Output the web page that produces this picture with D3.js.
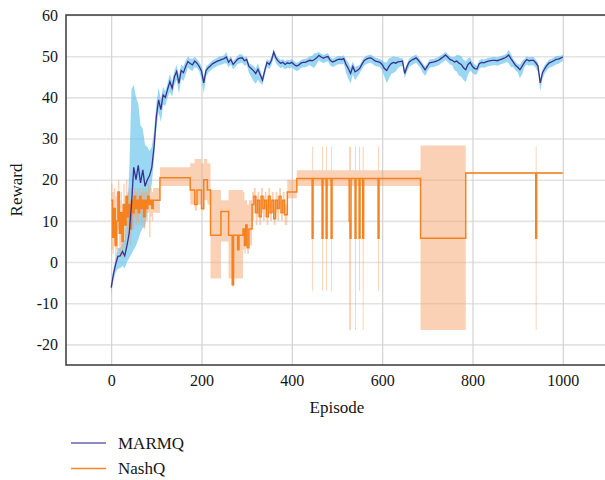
<!DOCTYPE html>
<html>
<head>
<meta charset="utf-8">
<script src="https://cdn.jsdelivr.net/npm/d3@7"></script>
<style>
body { margin: 0; background: #fff; }
svg text { font-family: "Liberation Serif", "Times New Roman", "DejaVu Serif", serif !important; fill: #151515; }
</style>
</head>
<body>
<script>
const w = 605; // width
const h = 480; // height
const m = {left: 66, top: 15, bottom: 365};

// ticks
const xTicks = [0, 200, 400, 600, 800, 1000];
const yTicks = [-20, -10, 0, 10, 20, 30, 40, 50, 60];

// MARMQ, one value every 5 episodes (0..1000)
const marmqStep = 5;
const marmqMean = [
  -6.2, -3, -0.5, 1.4, 1.5, 2.6, 1.5, 4, 7, 14, 23, 20, 23.5, 19.2, 22.4, 18.4, 20, 21, 23, 28,
  35.3, 39.4, 37, 40.6, 40, 42, 43.8, 42.2, 45, 46.3, 43.4, 46.5, 46, 47.5, 48.7, 48.2, 47.9, 48.8, 48.3, 47.5,
  46.4, 43.5, 46.5, 47.2, 47.7, 48.2, 48.5, 48.8, 49, 49.2, 49.4, 49.8, 48.5, 49.2, 48, 48.6, 49.3, 49.5, 49.6, 48.9,
  49.2, 47.5, 47, 46.5, 45.8, 46.8, 45.5, 44.2, 46.5, 48.5, 48, 49, 51, 49.5, 48.8, 48.3, 48.5, 48, 48.4, 48.2,
  48.5, 48, 47.6, 47.8, 48.3, 48.5, 48.5, 48.8, 49, 48.9, 49.2, 49.6, 50.2, 49.8, 49.5, 49.8, 49.9, 49, 48.6, 48.8,
  49.1, 49.3, 49.2, 49.4, 48, 47, 45.8, 47.5, 46.2, 46.5, 47, 48, 48.9, 49.3, 49.5, 49.6, 49.2, 48.8, 48.7, 48.5,
  48, 47, 46.5, 47.5, 48.2, 48.5, 48.3, 48.6, 48.7, 48.8, 45.8, 47.5, 48.6, 49, 49.3, 49.6, 49, 48.3, 47.5, 46.7,
  47.5, 48.4, 48.5, 48.6, 48.8, 49, 49.4, 49.8, 50.3, 49.8, 49.2, 49, 48.6, 48.8, 48.3, 48, 47.2, 46.7, 48, 48.5,
  47.5, 47, 46.9, 48.2, 48.5, 48.4, 48.6, 48.8, 48.9, 49, 49, 48.9, 49.1, 49.3, 49.5, 49.8, 50.3, 49.4, 48.6, 47.8,
  47.3, 46.7, 47.6, 48.5, 49.2, 48.9, 49, 49, 48.4, 47.6, 43.5, 46, 47, 47.8, 48.4, 48.6, 48.9, 49.2, 49.3, 49.5,
  49.8
];
const marmqUp = [
  1, 1.5, 1.5, 2, 2, 2, 4, 8, 15, 28, 20, 20, 15, 14, 10, 10, 8, 6, 5, 4,
  3, 3, 2.5, 2, 1.5, 1.5, 2, 1.5, 1.5, 1.5, 2, 1.5, 1.5, 1.5, 1.2, 1.2, 1.5, 1, 1, 1,
  1.2, 1.5, 1, 0.8, 0.8, 0.8, 0.8, 0.8, 1, 0.8, 0.8, 1.2, 0.8, 0.8, 0.8, 0.8, 0.8, 1, 0.8, 0.8,
  0.8, 0.8, 1, 1.2, 1.2, 1.5, 1.2, 0.8, 0.8, 0.8, 0.8, 1, 0.8, 0.8, 0.8, 0.8, 0.8, 0.8, 0.8, 0.8,
  0.8, 0.8, 0.8, 0.8, 0.8, 0.8, 0.8, 0.8, 1, 1.2, 1.5, 1.2, 0.8, 0.8, 0.8, 0.8, 0.8, 0.8, 0.8, 0.8,
  0.8, 0.8, 0.8, 0.8, 1.2, 1.5, 1.5, 1.2, 1.2, 1.2, 0.8, 0.8, 0.8, 0.8, 0.8, 0.8, 0.8, 0.8, 0.8, 0.8,
  1, 1.5, 2, 2, 1.5, 1.5, 1.5, 1.2, 0.8, 0.8, 0.8, 0.8, 0.8, 0.8, 0.8, 0.8, 0.8, 0.8, 0.8, 0.8,
  0.8, 0.8, 0.8, 0.8, 0.8, 0.8, 0.8, 0.8, 0.8, 0.8, 0.8, 0.8, 1.2, 1.5, 2, 2, 2, 2, 1.5, 1.2,
  1, 1, 0.8, 0.8, 0.8, 0.8, 0.8, 0.8, 0.8, 0.8, 0.8, 0.8, 0.8, 0.8, 0.8, 0.8, 1.2, 1.2, 0.8, 0.8,
  0.8, 1.2, 1.2, 0.8, 0.8, 0.8, 0.8, 0.8, 0.8, 0.8, 0.8, 0.8, 0.8, 0.8, 0.8, 0.8, 0.8, 0.8, 0.8, 0.6,
  0.6
];
const marmqDown = [
  1.5, 1.5, 2, 3, 3, 3.5, 3, 4, 6, 12, 20, 16, 18, 12, 14, 10, 8, 5, 4, 3,
  3, 3, 3, 2.5, 2, 2, 2.5, 2, 2, 2, 2.5, 2, 2, 2, 1.5, 1.5, 1.5, 1.5, 1.2, 1.2,
  2, 2.5, 1.5, 1.2, 1.2, 1.2, 1.2, 1.2, 1.2, 1.2, 1.2, 1.5, 1.2, 1.2, 1.2, 1.2, 1.2, 1.2, 1.2, 1.2,
  1.2, 1.5, 2, 2.5, 2.5, 2.5, 2, 1.2, 1.2, 1.2, 1.2, 1.2, 1.2, 1.2, 1.2, 1.2, 1.2, 1.2, 1.2, 1.2,
  1.2, 1.2, 1.2, 1.2, 1.2, 1.2, 1.2, 1.2, 1.2, 1.5, 2, 1.5, 1.2, 1.2, 1.2, 1.2, 1.2, 1.2, 1.2, 1.2,
  1.2, 1.2, 1.2, 1.2, 2, 2.5, 2.5, 2, 2, 1.5, 1.2, 1.2, 1.2, 1.2, 1.2, 1.2, 1.2, 1.2, 1.2, 1.2,
  1.5, 2, 3, 3, 2.5, 2.5, 2, 1.5, 1.2, 1.2, 1.2, 1.2, 1.2, 1.2, 1.2, 1.2, 1.2, 1.2, 1.5, 1.5,
  1.2, 1.2, 1.2, 1.2, 1.2, 1.2, 1.2, 1.2, 1.2, 1.2, 1.2, 1.2, 2, 2.5, 3, 3, 3, 3, 2.5, 2,
  1.5, 1.5, 1.2, 1.2, 1.2, 1.2, 1.2, 1.2, 1.2, 1.2, 1.2, 1.2, 1.2, 1.2, 1.2, 1.2, 2, 2, 1.2, 1.2,
  1.2, 2, 2, 1.2, 1.2, 1.2, 1.2, 1.2, 1.2, 1.5, 2, 1.5, 1.2, 1.2, 1.2, 1.2, 1.2, 1.2, 1.2, 1,
  1
];

// NashQ, stepped: value holds from each episode until the next one
const nashEp = [0, 3, 6, 9, 12, 15, 18, 21, 24, 27, 30, 33, 36, 39, 42, 45, 48, 51, 54, 57, 60, 63, 66, 69, 72, 75, 78, 81, 84, 87, 90, 93,
  108, 175, 185, 190, 200, 205, 213, 220, 243, 260, 268, 271, 280, 283, 292, 295, 298, 301, 305,
  312, 316, 320, 324, 328, 332, 336, 340, 344, 348, 352, 356, 360, 364, 368, 372, 376, 380, 384, 390, 411,
  445, 447, 467, 469, 476, 478, 487, 489, 527, 529, 531, 540, 542, 549, 551, 557, 559, 591, 593, 685, 785, 940, 942, 1000];
const nashMean = [15, 6, 13, 4, 10, 17, 7, 12, 5, 14, 9, 16, 11, 14, 8, 15, 12, 16, 13, 15, 12, 16, 13, 15, 11, 15, 13, 16, 14, 15, 13, 15,
  20.5, 17.5, 14, 17.5, 13, 20, 17.5, 6.5, 12.3, 6.5, -5.5, 6.5, 3, 6.5, 8, 4, 9, 3.5, 8,
  14, 16, 12, 15, 11, 16, 13, 15, 11, 16, 12, 15, 10.5, 15, 13, 16, 12, 15, 11.5, 17, 20.3,
  5.8, 20.3, 5.8, 20.3, 5.8, 20.3, 5.8, 20.3, 10, 5.8, 20.3, 5.8, 20.3, 5.8, 20.3, 5.8, 20.3, 5.8, 20.3, 5.8, 21.6, 5.8, 21.6, 21.6];
const nashLo = [3, 2, 4, 0, 3, 8, 2, 4, 1, 6, 3, 9, 6, 8, 4, 10, 8, 11, 9, 10, 9, 12, 9, 11, 8, 12, 10, 12, 6, 11, 10, 12,
  18.5, 14, 12.5, 14, 12.5, 15, 14, -4, 5, -4, -6, -4, -4, -4, 3, 2, 4, 2, 4,
  10, 12, 9, 11, 9, 12, 10, 11, 9, 13, 10, 12, 9, 12, 10, 13, 10, 12, 9, 15.5, 18.5,
  -7, 18.5, -7, 18.5, -7, 18.5, -7, 18.5, -16.5, -16.5, 18.5, -16.5, 18.5, -7, 18.5, -16.5, 18.5, -7, 18.5, -16.5, 21.4, -16.5, 21.4, 21.4];
const nashHi = [19, 17, 18, 16, 17, 20, 15, 17, 14, 19, 16, 20, 17, 18, 15, 18, 17, 18, 17, 18, 16, 18, 17, 18, 17, 18, 17, 19, 18, 18, 17, 18,
  23, 24, 25, 25, 24, 25, 24, 17.5, 15, 17.5, 17.5, 17.5, 17.5, 17.5, 17, 15, 15, 14, 15,
  17, 18, 16, 17, 15, 18, 16, 17, 14, 18, 15, 17, 13, 17, 16, 18, 15, 17, 14, 20, 22.3,
  28, 22.3, 28, 22.3, 28, 22.3, 28, 22.3, 28, 28, 22.3, 28, 22.3, 28, 22.3, 28, 22.3, 28, 22.3, 28.3, 21.8, 28, 21.8, 21.8];

const series = ["MARMQ", "NashQ"];
const lineColor = {MARMQ: "#3b3190", NashQ: "#f5821f"};
const legendColor = {MARMQ: "#6a63b3", NashQ: "#f7862a"};
const serif = '"Liberation Serif", "Times New Roman", "DejaVu Serif", serif';

const marmq = marmqMean.map((v, i) => ({ep: i * marmqStep, v: v, lo: v - marmqDown[i], hi: v + marmqUp[i]}));
const nash = nashEp.map((e, i) => ({ep: e, v: nashMean[i], lo: nashLo[i], hi: nashHi[i]}));

let svg = d3.select("body")
    .append("svg")
    .attr("width", w)
    .attr("height", h)
    .attr("font-family", serif);

let x = d3.scaleLinear().domain([-100, 1100]).range([m.left, 608]);
let y = d3.scaleLinear().domain([-25, 60]).range([m.bottom, m.top]);

// grid
svg.append("g")
    .attr("transform", `translate(${m.left},0)`)
    .call(d3.axisLeft(y).tickValues(yTicks).tickSize(-(w - m.left)).tickFormat(""))
    .call(g => g.select(".domain").remove())
    .call(g => g.selectAll("line").attr("stroke", "#e3e3e3").attr("stroke-width", 1.6));

svg.append("g")
    .attr("transform", `translate(0,${m.bottom})`)
    .call(d3.axisBottom(x).tickValues(xTicks).tickSize(-(m.bottom - m.top)).tickFormat(""))
    .call(g => g.select(".domain").remove())
    .call(g => g.selectAll("line").attr("stroke", "#d2d2d2").attr("stroke-width", 1.2));

// bands
svg.append("path")
    .datum(marmq)
    .attr("fill", "#55bdea")
    .attr("fill-opacity", 0.6)
    .attr("d", d3.area().x(d => x(d.ep)).y0(d => y(d.lo)).y1(d => y(d.hi)));

svg.append("path")
    .datum(nash)
    .attr("fill", "#f5a46a")
    .attr("fill-opacity", 0.5)
    .attr("d", d3.area().curve(d3.curveStepAfter).x(d => x(d.ep)).y0(d => y(d.lo)).y1(d => y(d.hi)));

// lines
svg.append("path")
    .datum(nash)
    .attr("fill", "none")
    .attr("stroke", lineColor.NashQ)
    .attr("stroke-width", 1.5)
    .attr("d", d3.line().curve(d3.curveStepAfter).x(d => x(d.ep)).y(d => y(d.v)));

svg.append("path")
    .datum(marmq)
    .attr("fill", "none")
    .attr("stroke", lineColor.MARMQ)
    .attr("stroke-width", 1.3)
    .attr("d", d3.line().x(d => x(d.ep)).y(d => y(d.v)));

// frame: left, top, bottom
svg.append("path")
    .attr("fill", "none")
    .attr("stroke", "#3a3a3a")
    .attr("stroke-width", 1.5)
    .attr("d", `M${w},${m.top}H${m.left}V${m.bottom}H${w}`);

// axes labels (plain hyphen for negatives, no thousands comma)
svg.append("g")
    .attr("transform", `translate(${m.left},0)`)
    .call(d3.axisLeft(y).tickValues(yTicks).tickSize(0).tickPadding(8).tickFormat(d => String(d)))
    .call(g => g.select(".domain").remove())
    .attr("font-family", serif)
    .attr("font-size", 16);

svg.append("g")
    .attr("transform", `translate(0,${m.bottom})`)
    .call(d3.axisBottom(x).tickValues(xTicks).tickSize(0).tickPadding(10).tickFormat(d => String(d)))
    .call(g => g.select(".domain").remove())
    .attr("font-family", serif)
    .attr("font-size", 16);

svg.append("text")
    .attr("text-anchor", "middle")
    .attr("x", x(500))
    .attr("y", 413)
    .attr("font-size", 17)
    .text("Episode");

svg.append("text")
    .attr("text-anchor", "middle")
    .attr("transform", `translate(22,${y(17.5)}) rotate(-90)`)
    .attr("font-size", 17)
    .text("Reward");

// legend
let legend = svg.selectAll(".legend")
    .data(series)
    .enter()
    .append("g")
    .attr("class", "legend")
    .attr("transform", (d, i) => `translate(71,${443 + i * 25.5})`);

legend.append("line")
    .attr("x1", 0).attr("x2", 35)
    .attr("stroke", d => legendColor[d])
    .attr("stroke-width", 1.5);

legend.append("text")
    .attr("x", 47)
    .attr("dy", "0.35em")
    .attr("font-size", 17)
    .text(d => d);
</script>
</body>
</html>
